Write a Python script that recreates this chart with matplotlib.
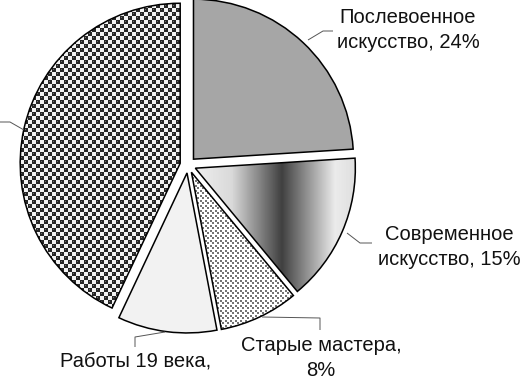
import numpy as np
import matplotlib
matplotlib.use("Agg")
import matplotlib.pyplot as plt

# data
labels = ["Послевоенное\nискусство, 24%", "Современное\nискусство, 15%",
          "Старые мастера,\n8%", "Работы 19 века,", ""]
shares = [24, 15, 8, 10, 43]

W, H = 521, 381

plt.rcParams['font.family'] = ['Liberation Sans', 'DejaVu Sans']

fig = plt.figure(figsize=(W / 100, H / 100), dpi=100)
ax = fig.add_axes([0, 0, 1, 1])

# explode is in data units (pixels here)
wedges, _ = ax.pie(shares, explode=[8] * len(shares), startangle=90,
                   counterclock=False, center=(188, H - 165), radius=160,
                   wedgeprops=dict(edgecolor='black', linewidth=1.1))

# textures in pixel space (row 0 = top of the picture)
yy, xx = np.mgrid[0:H, 0:W] + 0.5

# metallic horizontal gradient
grad = np.interp(xx, [197, 232, 282, 335, 360], [0.93, 0.85, 0.25, 0.92, 0.86])

# fine gray dots on white
c = 2.5
ix, iy = np.floor(xx / c), np.floor(yy / c)
dots = np.where(((ix + iy) % 2 == 0) & ((xx % c) < 2) & ((yy % c) < 2), 0.45, 1.0)

# dark balls in a checker layout
c2 = 4.0
cx = (np.floor(xx / c2) + 0.5) * c2
cy = (np.floor(yy / c2) + 0.5) * c2
chk = ((np.floor(xx / c2) + np.floor(yy / c2)) % 2 == 0)
dist = np.hypot(xx - cx, yy - cy)
balls = np.full_like(xx, 0.95)
balls[chk & (dist < 2.9)] = 0.15
balls[chk & (dist < 1.1) & (xx < cx) & (yy < cy)] = 0.42

fills = {0: '#a6a6a6', 3: '#f2f2f2'}
images = {1: grad, 2: dots, 4: balls}
for i, w in enumerate(wedges):
    if i in fills:
        w.set_facecolor(fills[i])
    else:
        w.set_facecolor('none')
        im = ax.imshow(images[i], cmap='gray', vmin=0, vmax=1, origin='upper',
                       extent=(0, W, 0, H), interpolation='nearest', zorder=0.5)
        im.set_clip_path(w)

# leader lines (picture coordinates)
leaders = [
    [(308, 40), (323, 31), (333, 31)],
    [(347, 233), (360, 243), (372, 243)],
    [(262, 317), (320, 318), (320, 330)],
    [(165, 332), (135, 337), (135, 347)],
    [(24, 130), (10, 122), (-5, 122)],
]
for pts in leaders:
    px = [p[0] for p in pts]
    py = [H - p[1] for p in pts]
    ax.plot(px, py, color='#555555', lw=0.7, solid_capstyle='butt', zorder=2)

# data labels
label_pos = [(408, 30), (449, 247), (321, 358), (136, 362)]
for txt, (x, y) in zip(labels, label_pos):
    ax.text(x, H - y, txt, ha='center', va='center', fontsize=14.5,
            color='#111111', linespacing=1.4)

ax.set_xlim(0, W)
ax.set_ylim(0, H)
ax.set_aspect('equal')
ax.set_axis_off()

fig.savefig("out.png", dpi=100)
